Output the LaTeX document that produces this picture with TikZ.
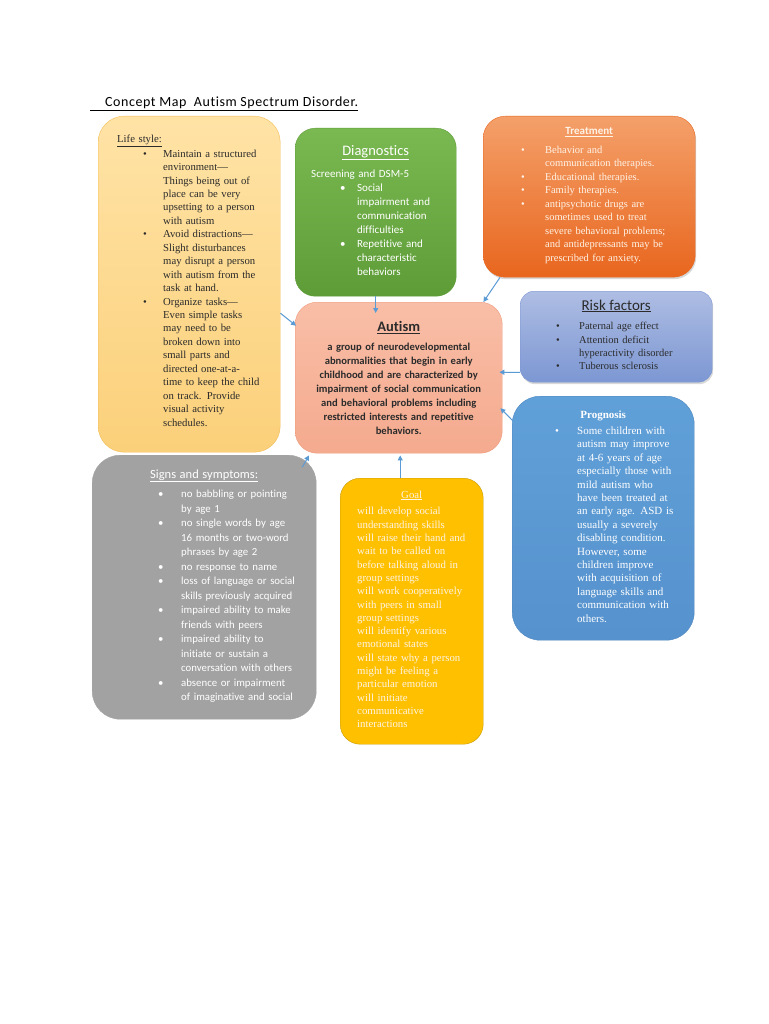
\documentclass[tikz,border=0pt]{standalone}
\usepackage{fontspec}
\setmainfont{Liberation Serif}
\setsansfont{Carlito}[Ligatures=NoCommon]
\usetikzlibrary{calc,arrows.meta,shadows}

\definecolor{lifetop}{HTML}{FFE3A6}
\definecolor{lifebot}{HTML}{FBD07A}
\definecolor{lifeline}{HTML}{F3BE55}
\definecolor{diagtop}{HTML}{7AB951}
\definecolor{diagbot}{HTML}{5E9C38}
\definecolor{treattop}{HTML}{F4A06A}
\definecolor{treatbot}{HTML}{E8661E}
\definecolor{risktop}{HTML}{AEBDE3}
\definecolor{riskbot}{HTML}{7C97D3}
\definecolor{autismtop}{HTML}{F9BEA7}
\definecolor{autismbot}{HTML}{F4AA8E}
\definecolor{autismline}{HTML}{EF9B7B}
\definecolor{signsfill}{HTML}{A2A2A2}
\definecolor{goalfill}{HTML}{FFC000}
\definecolor{goalline}{HTML}{C79A00}
\definecolor{progtop}{HTML}{60A0D8}
\definecolor{progbot}{HTML}{5692CE}
\definecolor{progline}{HTML}{4E86BF}
\definecolor{linkblue}{HTML}{5B9BD5}
\definecolor{darktext}{HTML}{2B2B2B}
\definecolor{creamtext}{HTML}{FFF3E6}

\begin{document}
\begin{tikzpicture}[x=1pt,y=-1pt,
  box/.style={rectangle, draw, thin, rounded corners=22pt, anchor=north west, inner xsep=0pt, inner ysep=0pt, align=left,
              execute at begin node={\vspace*{5pt}}},
  link/.style={-{Triangle[length=5pt,width=5pt]}, draw=linkblue, line width=1pt},
]
  \useasboundingbox (0,0) rectangle (768,1024);
  \fill[white] (0,0) rectangle (768,1024);

  \node[anchor=base west, inner sep=0pt, font=\sffamily\fontsize{14}{14}\selectfont\addfontfeature{LetterSpace=4}] (title) at (90,107)
    {\underline{\hspace{15pt}Concept Map\ \ Autism Spectrum Disorder.}};

  % left column
  \node[box, text width=182pt, minimum height=336pt, rounded corners=26pt, top color=lifetop, bottom color=lifebot, draw=lifeline,
        text=darktext, font=\fontsize{10.7}{13.45}\selectfont] (lifestyle) at (98,116) {
    \hspace*{19pt}\begin{tabular}[t]{@{\hspace{26pt}}p{20pt}@{}l@{}}
      \multicolumn{2}{@{}l}{\underline{Life style:}}\\[1pt]
      \textbullet & Maintain a structured\\
       & environment—\\
       & Things being out of\\
       & place can be very\\
       & upsetting to a person\\
       & with autism\\
      \textbullet & Avoid distractions—\\
       & Slight disturbances\\
       & may disrupt a person\\
       & with autism from the\\
       & task at hand.\\
      \textbullet & Organize tasks—\\
       & Even simple tasks\\
       & may need to be\\
       & broken down into\\
       & small parts and\\
       & directed one-at-a-\\
       & time to keep the child\\
       & on track. Provide\\
       & visual activity\\
       & schedules.
    \end{tabular}
  };

  \node[box, text width=224pt, minimum height=264pt, rounded corners=28pt, fill=signsfill, draw=signsfill,
        text=white, font=\sffamily\fontsize{10.8}{14.5}\selectfont] (signs) at (92,455) {
    \makebox[\linewidth]{\fontsize{12.5}{12.5}\selectfont\underline{Signs and symptoms:}}\\
    \hspace*{66pt}\begin{tabular}[t]{@{}p{23pt}@{}l@{}}
      \textbullet & no babbling or pointing\\
       & by age 1\\
      \textbullet & no single words by age\\
       & 16 months or two-word\\
       & phrases by age 2\\
      \textbullet & no response to name\\
      \textbullet & loss of language or social\\
       & skills previously acquired\\
      \textbullet & impaired ability to make\\
       & friends with peers\\
      \textbullet & impaired ability to\\
       & initiate or sustain a\\
       & conversation with others\\
      \textbullet & absence or impairment\\
       & of imaginative and social
    \end{tabular}
  };

  % middle column
  \node[box, text width=161pt, minimum height=168pt, rounded corners=20pt, top color=diagtop, bottom color=diagbot, draw=diagbot,
        text=white, font=\sffamily\fontsize{11}{14}\selectfont] (diagnostics) at (295,128) {
    \makebox[\linewidth]{\fontsize{14.5}{14.5}\selectfont\underline{Diagnostics}}\\[3pt]
    \hspace*{16pt}Screening and DSM-5\\
    \hspace*{45pt}\begin{tabular}[t]{@{}p{17pt}@{}l@{}}
      \textbullet & Social\\
       & impairment and\\
       & communication\\
       & difficulties\\
      \textbullet & Repetitive and\\
       & characteristic\\
       & behaviors
    \end{tabular}
  };

  \node[box, text width=207pt, minimum height=151pt, align=center, top color=autismtop, bottom color=autismbot, draw=autismline,
        text=darktext, font=\sffamily\bfseries\fontsize{10.6}{14}\selectfont] (autism) at (295,302) {
    {\fontsize{14.5}{14.5}\selectfont\underline{Autism}}\\
    a group of neurodevelopmental\\
    abnormalities that begin in early\\
    childhood and are characterized by\\
    impairment of social communication\\
    and behavioral problems including\\
    restricted interests and repetitive\\
    behaviors.
  };

  \node[box, text width=143pt, minimum height=266pt, rounded corners=20pt, fill=goalfill, draw=goalline,
        text=creamtext, font=\fontsize{10.8}{13.3}\selectfont] (goal) at (340,478) {
    \makebox[\linewidth]{\underline{Goal}}\\[-1.5pt]
    \hspace*{17pt}\begin{tabular}[t]{@{}l@{}}
      will develop social\\
      understanding skills\\
      will raise their hand and\\
      wait to be called on\\
      before talking aloud in\\
      group settings\\
      will work cooperatively\\
      with peers in small\\
      group settings\\
      will identify various\\
      emotional states\\
      will state why a person\\
      might be feeling a\\
      particular emotion\\
      will initiate\\
      communicative\\
      interactions
    \end{tabular}
  };

  % right column
  \node[box, text width=212pt, minimum height=161pt, top color=treattop, bottom color=treatbot, draw=treatbot,
        drop shadow={opacity=0.3, shadow xshift=1pt, shadow yshift=-2pt},
        text=creamtext, font=\fontsize{10.5}{13.5}\selectfont] (treatment) at (483,116) {
    \makebox[\linewidth]{\sffamily\bfseries\fontsize{11}{11}\selectfont\underline{Treatment}}\\
    \hspace*{38pt}\begin{tabular}[t]{@{}p{24pt}@{}l@{}}
      \textbullet & Behavior and\\
       & communication therapies.\\
      \textbullet & Educational therapies.\\
      \textbullet & Family therapies.\\
      \textbullet & antipsychotic drugs are\\
       & sometimes used to treat\\
       & severe behavioral problems;\\
       & and antidepressants may be\\
       & prescribed for anxiety.
    \end{tabular}
  };

  \node[box, text width=192pt, minimum height=91pt, rounded corners=14pt, top color=risktop, bottom color=riskbot, draw=riskbot,
        drop shadow={opacity=0.3, shadow xshift=1pt, shadow yshift=-2pt},
        text=darktext, font=\fontsize{10.5}{13.3}\selectfont] (risk) at (520,291) {
    \makebox[\linewidth]{\sffamily\fontsize{15}{15}\selectfont\underline{Risk factors}}\\[1.5pt]
    \hspace*{36pt}\begin{tabular}[t]{@{}p{23pt}@{}l@{}}
      \textbullet & Paternal age effect\\
      \textbullet & Attention deficit\\
       & hyperactivity disorder\\
      \textbullet & Tuberous sclerosis
    \end{tabular}
  };

  \node[box, text width=182pt, minimum height=244pt, rounded corners=28pt, top color=progtop, bottom color=progbot, draw=progline,
        text=white, font=\fontsize{11}{13.4}\selectfont] (prognosis) at (512,396) {
    \makebox[\linewidth]{\textbf{Prognosis}}\\[-2pt]
    \hspace*{43pt}\begin{tabular}[t]{@{}p{22pt}@{}l@{}}
      \textbullet & Some children with\\
       & autism may improve\\
       & at 4-6 years of age\\
       & especially those with\\
       & mild autism who\\
       & have been treated at\\
       & an early age. ASD is\\
       & usually a severely\\
       & disabling condition.\\
       & However, some\\
       & children improve\\
       & with acquisition of\\
       & language skills and\\
       & communication with\\
       & others.
    \end{tabular}
  };

  % links into the centre
  \draw[link] ($(lifestyle.east)+(0,29)$) -- ($(autism.west)+(1,-52)$);
  \draw[link] (diagnostics.south) -- ($(diagnostics.south |- autism.north)+(0,11)$);
  \draw[link] ($(treatment.south west)+(17,0)$) -- ($(autism.north east)+(-19,0)$);
  \draw[link] ($(risk.south west)+(0,-10)$) -- ($(autism.east)+(-3,-5.5)$);
  \draw[link] ($(prognosis.north west)+(1,25)$) -- ($(autism.east)+(-2,30.5)$);
  \draw[link] ($(signs.north east)+(-14,12)$) -- ($(autism.south west)+(14,2)$);
  \draw[link] ($(goal.north)+(-11.5,0)$) -- ($(autism.south)+(1.5,2)$);
\end{tikzpicture}
\end{document}
